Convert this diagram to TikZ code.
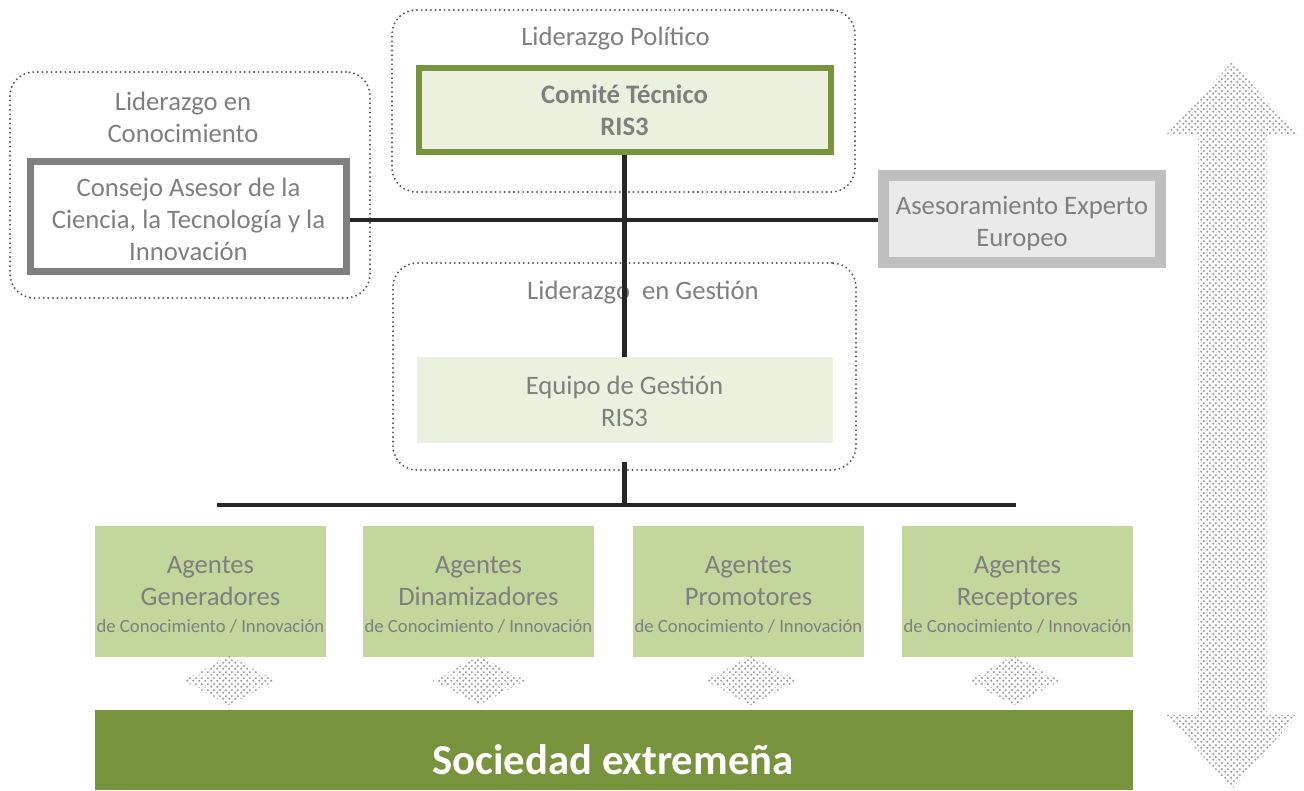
\documentclass[tikz,border=0pt]{standalone}
\usepackage{fontspec}
\setmainfont{Carlito}
\usetikzlibrary{patterns.meta}
\definecolor{dkgreen}{HTML}{77933C}
\definecolor{ltgreen}{HTML}{EBF1DE}
\definecolor{aggreen}{HTML}{C3D69B}
\definecolor{txtgray}{HTML}{7F7F7F}
\definecolor{linegray}{HTML}{262626}
\definecolor{dotgray}{HTML}{595959}
\definecolor{asborder}{HTML}{BFBFBF}
\definecolor{asfill}{HTML}{EAEAEA}
\definecolor{patgray}{HTML}{9A9A9A}
\newcommand\agsmall{\fontsize{18.67}{22}\selectfont}
\tikzdeclarepattern{
  name=hexdots,
  type=uncolored,
  bounding box={(0pt,0pt) and (6pt,6pt)},
  tile size={(6pt,6pt)},
  code={
    \pgfpathcircle{\pgfqpoint{1.5pt}{1.5pt}}{1.3pt}
    \pgfpathcircle{\pgfqpoint{4.5pt}{4.5pt}}{1.3pt}
    \pgfusepath{fill}
  }
}
\begin{document}
\begin{tikzpicture}[x=1pt,y=-1pt,
  bigtxt/.style={font=\fontsize{26.67}{32}\selectfont, text=txtgray, align=center},
  groupbox/.style={draw=dotgray, line width=2.2pt, dash pattern=on 0pt off 4.6pt, line cap=round, rounded corners=24pt, inner sep=0pt},
  comitebox/.style={draw=dkgreen, line width=6pt, fill=ltgreen, minimum width=412pt, minimum height=84pt, inner sep=0pt, text=txtgray, align=center, font=\bfseries\fontsize{26.67}{32}\selectfont},
  consejobox/.style={draw=txtgray, line width=7pt, fill=white, minimum width=316pt, minimum height=110pt, inner sep=0pt},
  asesorbox/.style={draw=asborder, line width=11pt, fill=asfill, minimum width=277pt, minimum height=87pt, inner sep=0pt},
  equipobox/.style={fill=ltgreen, minimum width=416pt, minimum height=86pt, inner sep=0pt, bigtxt},
  agentbox/.style={fill=aggreen, minimum width=231pt, minimum height=131pt, inner sep=0pt},
  connector/.style={draw=linegray, line width=4.5pt},
  dotfill/.style={pattern={hexdots}, pattern color=patgray}
]
\useasboundingbox (0,0) rectangle (1304,790);

% group frames
\node[groupbox, minimum width=463pt, minimum height=182pt] (polgroup) at (623.5,101) {};
\node[groupbox, minimum width=360pt, minimum height=226pt] (knowgroup) at (190,185) {};
\node[groupbox, minimum width=463pt, minimum height=207pt] (gestgroup) at (624.5,366.5) {};

% group titles
\node[bigtxt] (poltitle) at (615.5,38.5) {Liderazgo Político};
\node[bigtxt] (knowtitle) at (183,117) {Liderazgo en\\Conocimiento};
\node[bigtxt, anchor=west, inner sep=0pt] (gesttitle) at (527,292.5) {Liderazgo\ \ en Gestión};

% boxes
\node[comitebox] (comite) at (624.5,110) {Comité Técnico\\RIS3};
\node[consejobox] (consejo) at (188.5,216.5) {};
\node[bigtxt] (consejotxt) at (188.5,219.5) {Consejo Asesor de la\\Ciencia, la Tecnología y la\\Innovación};
\node[asesorbox] (asesor) at (1022,219) {};
\node[bigtxt] (asesortxt) at (1022,223) {Asesoramiento Experto\\Europeo};
\node[equipobox] (equipo) at (624.5,400) {};
\node[bigtxt] (equipotxt) at (624.5,401.5) {Equipo de Gestión\\RIS3};

% agents
\node[agentbox] (ag1) at (210.5,591.5) {};
\node[agentbox] (ag2) at (478.5,591.5) {};
\node[agentbox] (ag3) at (748.5,591.5) {};
\node[agentbox] (ag4) at (1017.5,591.5) {};
\node[bigtxt] (ag1t) at (210.5,594.5) {Agentes\\Generadores\\[-5pt]{\agsmall de Conocimiento / Innovación}};
\node[bigtxt] (ag2t) at (478.5,594.5) {Agentes\\Dinamizadores\\[-5pt]{\agsmall de Conocimiento / Innovación}};
\node[bigtxt] (ag3t) at (748.5,594.5) {Agentes\\Promotores\\[-5pt]{\agsmall de Conocimiento / Innovación}};
\node[bigtxt] (ag4t) at (1017.5,594.5) {Agentes\\Receptores\\[-5pt]{\agsmall de Conocimiento / Innovación}};

% society bar
\node[fill=dkgreen, minimum width=1038pt, minimum height=80pt, inner sep=0pt] (soc) at (614,750) {};
\node[font=\bfseries\fontsize{42.67}{48}\selectfont, text=white] (soctxt) at (613,760) {Sociedad extremeña};

% small double arrows
\foreach \cx in {229,479,751,1014} {
  \fill[dotfill] (\cx-46,680.5) -- (\cx,656) -- (\cx+47,680.5) -- (\cx,705) -- cycle;
  \draw[white, line width=0.8pt] (\cx-46,674.5) -- (\cx-20,674.5) (\cx-46,686) -- (\cx-20,686)
                                  (\cx+20,674.5) -- (\cx+47,674.5) (\cx+20,686) -- (\cx+47,686);
}

% big vertical double arrow
\fill[dotfill] (1232,62) -- (1298,135) -- (1267,135) -- (1267,715) -- (1298,715) -- (1232,789)
   -- (1166,715) -- (1198,715) -- (1198,135) -- (1166,135) -- cycle;

% connectors
\coordinate (hj) at (625,220);
\coordinate (drop) at (624.5,462);
\coordinate (bus) at (624.5,505);
\coordinate (busL) at (217,505);
\coordinate (busR) at (1016,505);
\draw[connector] (consejo.east |- hj) -- (asesor.west |- hj);
\draw[connector] (comite.south) -- (equipo.north);
\draw[connector] (drop) -- (bus);
\draw[connector] (busL) -- (busR);
\end{tikzpicture}
\end{document}
